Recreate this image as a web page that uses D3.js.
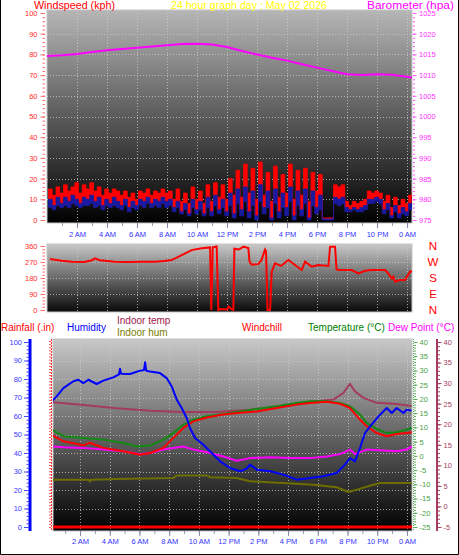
<!DOCTYPE html>
<html><head><meta charset="utf-8">
<script src="https://cdn.jsdelivr.net/npm/d3@7"></script>
<style>
html,body{margin:0;padding:0;background:#fff;}
svg{display:block;font-family:Arial,"Liberation Sans",sans-serif;}
</style></head><body>
<svg id="c" width="459" height="555"></svg>
<script>
// ---------- data ----------
const timeTicks  = [2,4,6,8,10,12,14,16,18,20,22,24];
const timeLabels = ["2 AM","4 AM","6 AM","8 AM","10 AM","12 PM","2 PM","4 PM","6 PM","8 PM","10 PM","0 AM"];

const windStart = 0.1, windStep = 0.25;
// red gust (top of red band)
const windGust = [15,12,16,13,17,14,16,18,13,17, 15,18,14,16,12,15,13,15,14,12,
  14,11,13,10,14,13,15,12,14,13, 15,13,14,10,15,9,13,8,16,10, 14,8,17,9,18,11,17,10,
  20,12,24,11,27,13,25,10,28,12, 23,9,26,11,22,13,27,10,24,12, 25,9,23,14,22,
  1,1,1, 17,16,17, 9,7,9,8,9,10, 14,13,14,13, 9,12,6,11,7,10,8,12,15];
// blue average speed (top of blue band)
const windSpeed = [10,7,11,8,11,9,12,10,8,11, 10,12,9,11,7,10,8,11,9,7,
  10,6,9,7,10,9,11,8,10,9, 11,9,10,6,9,4,8,3,10,5, 9,3,11,4,12,5,10,4,
  13,3,15,5,16,4,14,2,17,6, 14,1,15,4,13,6,16,2,14,5, 15,1,14,6,12,
  0.5,0.5,0.5, 11,10,11, 6,5,6,5,6,7, 10,10,11,10, 5,8,2,7,3,6,4,8,11];
// lowest speed (bottom of blue band)
const windLull = [6,5,7,6,7,6,8,7,6,7, 7,8,6,7,5,7,6,7,6,5,
  7,4,6,5,7,6,8,6,7,6, 8,6,7,4,6,3,5,2,6,3, 5,2,6,2,7,3,6,2,
  7,1,8,2,9,1,7,0,9,3, 6,0,8,1,6,2,9,0,7,2, 8,0,7,3,5,
  0,0,0, 8,7,8, 4,4,5,4,4,5, 8,8,9,8, 3,5,1,4,1,3,2,5,8];

const baroHours  = [0,1,2,3,4,5,6,7,8,9,10,11,12,13,14,15,16,17,18,19,20,21,22,23,24,24.33];
const baroValues = [1014.6,1014.8,1015.1,1015.6,1016.0,1016.3,1016.6,1016.9,1017.2,1017.5,1017.6,1017.4,1016.8,
  1015.8,1015.0,1014.2,1013.5,1012.6,1011.8,1011.0,1010.2,1010.0,1010.2,1010.1,1009.6,1009.4];

const dirHours = [0.2,0.98,1.64,2.5,3.0,3.2,3.5,3.87,4.5,5.42, 6.3,7.2,7.8,8.31,8.98,9.64,10.31,10.87,10.95,11.05,
  11.31,11.42,11.64,12.0,12.1,12.3,12.42,12.49,12.8,13.1, 13.42,13.5,13.64,14.09,14.3,14.53,14.6,14.7,14.87,14.98,
  15.2,15.6,16.09,16.53,16.98,17.2,17.64,18.09,18.76,18.87, 19.2,19.3,19.42,20.31,20.76,21.2,21.6,22.53,22.75,22.98,
  23.09,23.2,23.53,23.87,24.2,24.33];
const dirValues = [287,277,272,270,280,290,280,277,272,270, 272,272,276,281,309,337,347,352,0,352,
  357,0,5,3,19,5,0,345,340,356, 348,272,255,258,281,340,330,0,0,216,
  262,248,281,253,225,272,244,253,248,356, 356,229,225,225,206,221,225,225,206,178,
  188,159,169,169,216,216];
const dirLetters = ["N","W","S","E","N"];

const humHours = [0.09,0.43,0.88,1.55,1.89,2.22,2.56,3.12,3.57,4.24,4.62,4.69,4.76,5.36,6.04,6.3,6.38,6.45,6.71,7.38,
  7.83,8.17,8.51,8.84,9.18,9.4,9.74,10.3,10.75,11.42,12.1,12.77,13.2,13.44,13.89,14.79,15.68,16.58,17.48,18.37,
  19.27,19.83,20.17,20.5,20.84,21.18,21.52,22.19,22.64,22.98,23.31,23.76,23.98,24.31];
const humValues = [67.9,70.6,75.1,78.8,79.6,77.8,79.6,77.3,79.1,80.9,82.5,85.5,82.8,82.7,84.5,84.8,89,84.5,84.1,83.2,
  80.5,76.0,68.8,64.3,58.9,53.5,48.1,44.5,40.9,35.5,31.9,30.1,31.5,33.7,31.0,30.1,28.3,25.6,26.5,27.4,
  29.2,33.7,37.3,35.5,42.7,50.8,54.4,60.7,64.3,61.6,64.3,61.6,63.4,62.9];

const tempHours = [0.09,0.88,2.22,3.57,4.91,5.81,6.71,7.61,8.28,8.95,9.62,10.52,11.64,12.77,13.89,15.24,16.58,17.48,
  18.6,19.5,20.17,20.84,21.3,21.96,22.64,23.31,23.98,24.32];
const tempValues = [9.2,6.9,6.3,5.7,4.5,3.3,3.6,5.7,8.0,10.9,12.7,13.9,14.7,15.6,16.5,17.4,18.6,19.2,
  19.2,18.6,17.4,14.5,11.5,9.5,8.0,8.3,9.2,9.8];

const chillHours = [0.09,0.88,2.22,2.67,3.0,3.57,4.91,6.04,6.71,7.61,8.28,8.95,9.62,10.52,11.64,12.77,13.89,15.24,
  16.58,17.48,18.6,19.5,20.17,20.84,21.3,21.96,22.64,23.31,23.98,24.32];
const chillValues = [7.4,5.1,3.7,4.6,3.9,2.8,1.6,0.4,1.0,2.8,6.3,9.8,12.1,13.5,14.5,15.1,15.6,16.8,
  18.0,18.6,19.0,18.3,16.8,12.7,10.4,8.0,6.9,7.7,8.0,8.3];

const dewHours = [0.09,0.88,2.22,3.57,4.91,6.04,6.71,7.61,8.95,9.62,10.52,11.64,12.54,13.44,14.79,16.13,17.48,18.6,
  19.5,20.17,20.5,21.3,22.41,23.31,23.98,24.32];
const dewValues = [3.3,3.0,2.8,2.2,1.6,0.6,1.0,2.2,3.3,2.2,1.3,-0.2,-1.7,-0.8,-0.5,-0.8,-0.8,-0.2,
  0.6,2.2,0.6,2.2,1.9,1.6,2.2,3.3];

const inTempHours = [0.09,2.22,4.47,6.71,8.95,11.2,13.44,15.68,17.48,19.05,19.72,20.06,20.17,20.5,21.07,21.96,23.31,24.32];
const inTempValues = [25.4,24.7,23.9,23.3,23.0,23.0,23.5,24.5,25.4,26.0,27.6,29.3,29.8,28.0,26.4,25.2,24.9,24.4];

const inHumHours = [0.09,2.6,2.67,2.75,4.47,8.28,8.5,10.52,10.75,12.54,13.44,15.68,17.7,19.27,20.06,20.62,21.51,22.19,24.32];
const inHumValues = [25.6,25.6,24.6,25.6,25.9,26.5,27.9,27.9,26.9,26.5,24.7,23.8,22.9,21.5,18.9,20.2,22.3,23.8,23.8];

const rainHours = [0.18,24.34];
const rainValues = [0,0];

// ---------- drawing ----------
const svg = d3.select('#c');
const defs = svg.append('defs');
function grad(id, c0, c1){
  const g = defs.append('linearGradient').attr('id',id).attr('x1',0).attr('y1',0).attr('x2',0).attr('y2',1);
  g.append('stop').attr('offset','0%').attr('stop-color',c0);
  g.append('stop').attr('offset','100%').attr('stop-color',c1);
}
grad('gTop','#b6b6b6','#000000');
grad('gMid','#c8c8c8','#0a0a0a');
grad('gBot','#c8c8c8','#000000');

svg.append('rect').attr('x',0).attr('y',0).attr('width',459).attr('height',555).attr('fill','#fff');

const fmtTime = (d,i)=>timeLabels[i];

function panel(x0,y0,w,h,fill,clipId){
  svg.append('rect').attr('x',x0).attr('y',y0).attr('width',w).attr('height',h)
    .attr('fill',`url(#${fill})`).attr('stroke','#c4c4c4').attr('stroke-width',1);
  defs.append('clipPath').attr('id',clipId).append('rect').attr('x',x0).attr('y',y0).attr('width',w).attr('height',h);
}
function grid(xs, ys, x0, x1, y0, y1, xVals, yVals){
  const g = svg.append('g').attr('stroke','#cfcfcf').attr('stroke-width',1).attr('stroke-dasharray','1,2').attr('opacity',0.75);
  xVals.forEach(v=>{ const x=Math.round(xs(v))+0.5; g.append('line').attr('x1',x).attr('x2',x).attr('y1',y0).attr('y2',y1); });
  yVals.forEach(v=>{ const y=Math.round(ys(v))+0.5; g.append('line').attr('x1',x0).attr('x2',x1).attr('y1',y).attr('y2',y); });
}
function yAxis(scale, o){
  const mk = o.orient==='left'?d3.axisLeft:d3.axisRight;
  const gm = svg.append('g').attr('transform',`translate(${o.x},0)`)
    .call(mk(scale).tickValues(o.minor).tickSize(o.minorSize).tickFormat(''));
  gm.select('.domain').remove();
  gm.selectAll('line').attr('stroke',o.tickColor);
  const g = svg.append('g').attr('transform',`translate(${o.x},0)`)
    .call(mk(scale).tickValues(o.major).tickSize(o.majorSize).tickPadding(o.pad).tickFormat(o.fmt||(d=>d)));
  g.select('.domain').remove();
  g.selectAll('line').attr('stroke',o.tickColor);
  g.selectAll('text').attr('fill',o.labelColor).attr('font-size',o.fontSize||7.5).attr('font-family','Arial, "Liberation Sans", sans-serif');
  return g;
}
function xAxis(scale, y, labelY){
  const gm = svg.append('g').attr('transform',`translate(0,${y})`)
    .call(d3.axisBottom(scale).tickValues(d3.range(1,25,1)).tickSize(3).tickFormat(''));
  gm.select('.domain').remove(); gm.selectAll('line').attr('stroke','#9a9ab4');
  const g = svg.append('g').attr('transform',`translate(0,${y})`)
    .call(d3.axisBottom(scale).tickValues(timeTicks).tickSize(5).tickPadding(labelY-y-11).tickFormat(fmtTime));
  g.select('.domain').remove(); g.selectAll('line').attr('stroke','#8888aa');
  g.selectAll('text').attr('fill','#3434ff').attr('font-size',7.5);
}

// ===== TOP PANEL =====
const xT = d3.scaleLinear().domain([0,24.33]).range([47,412]);
const yW = d3.scaleLinear().domain([0,100]).range([220,13]);
const yP = d3.scaleLinear().domain([975,1025]).range([220,13]);
panel(47,10,365,213,'gTop','clipTop');
grid(xT,yW,47,412,10,223,timeTicks,d3.range(10,100,10));

const windHours = windGust.map((_,i)=>windStart+i*windStep);
const gTop = svg.append('g').attr('clip-path','url(#clipTop)');
const areaRed = d3.area().x((d,i)=>xT(windHours[i])).y0((d,i)=>yW(windSpeed[i])).y1(d=>yW(d)).curve(d3.curveStepAfter);
const areaBlue = d3.area().x((d,i)=>xT(windHours[i])).y0((d,i)=>yW(windLull[i])).y1(d=>yW(d)).curve(d3.curveStepAfter);
gTop.append('path').datum(windGust).attr('d',areaRed).attr('fill','#ff0000').attr('stroke','#ff0000').attr('stroke-width',0.8);
gTop.append('path').datum(windSpeed).attr('d',areaBlue).attr('fill','#1a1aa0').attr('stroke','#1a1aa0').attr('stroke-width',0.8);
const lineB = d3.line().x((d,i)=>xT(baroHours[i])).y(d=>yP(d));
gTop.append('path').datum(baroValues).attr('d',lineB).attr('fill','none').attr('stroke','#ff00ff').attr('stroke-width',2);

yAxis(yW,{orient:'left',x:45,major:d3.range(0,101,10),minor:d3.range(0,101,2),majorSize:4.5,minorSize:2.5,pad:3,tickColor:'#ff6a6a',labelColor:'#ff2a2a'});
yAxis(yP,{orient:'right',x:413,major:d3.range(975,1026,5),minor:d3.range(975,1026,1),majorSize:3.5,minorSize:2,pad:2.5,tickColor:'#ff55ff',labelColor:'#ff30ff'});
xAxis(xT,223,238);

const titles = [
  {t:'Windspeed (kph)',x:34,len:81,c:'#ff0000'},
  {t:'24 hour graph day : May 02 2026',x:171,len:156,c:'#ffff00'},
  {t:'Barometer (hpa)',x:367,len:87,c:'#ff00ff'}
];
svg.append('g').selectAll('text').data(titles).join('text')
  .attr('x',d=>d.x).attr('y',8.5).attr('font-size',10).attr('fill',d=>d.c)
  .attr('textLength',d=>d.len).attr('lengthAdjust','spacingAndGlyphs').text(d=>d.t);

// ===== MIDDLE PANEL =====
const yD = d3.scaleLinear().domain([0,360]).range([310,246]);
panel(47,244,365,68,'gMid','clipMid');
grid(xT,yD,47,412,244,312,timeTicks,[90,180,270]);
const lineD = d3.line().x((d,i)=>xT(dirHours[i])).y(d=>yD(d));
svg.append('g').attr('clip-path','url(#clipMid)').append('path').datum(dirValues).attr('d',lineD)
  .attr('fill','none').attr('stroke','#ff0000').attr('stroke-width',2);
yAxis(yD,{orient:'left',x:45,major:[0,90,180,270,360],minor:d3.range(0,361,18),majorSize:4.5,minorSize:2.5,pad:3,tickColor:'#ff6a6a',labelColor:'#ff2a2a'});
svg.append('g').selectAll('text').data(dirLetters).join('text')
  .attr('x',433).attr('y',(d,i)=>yD(360-i*90)+4).attr('text-anchor','middle')
  .attr('font-size',11.5).attr('fill','#ff0000').text(d=>d);

// ===== BOTTOM PANEL =====
const xB = d3.scaleLinear().domain([0.18,24.34]).range([53,412]);
const yH = d3.scaleLinear().domain([0,100]).range([527,342]);
const yR = d3.scaleLinear().domain([0,1.2]).range([527,341]);
const yT = d3.scaleLinear().domain([-25,40]).range([527,342]);
const yI = d3.scaleLinear().domain([-5,40]).range([527,342]);
panel(53,339,359,192,'gBot','clipBot');
grid(xB,yH,53,412,339,531,timeTicks,d3.range(10,100,10));

const gB = svg.append('g').attr('clip-path','url(#clipBot)');
function series(hours, vals, ys, color, w){
  const l = d3.line().x((d,i)=>xB(hours[i])).y(d=>ys(d));
  gB.append('path').datum(vals).attr('d',l).attr('fill','none').attr('stroke',color).attr('stroke-width',w).attr('stroke-linejoin','round');
}
series(inHumHours,inHumValues,yH,'#6e6e00',2);
series(inTempHours,inTempValues,yI,'#a33c5c',2);
series(dewHours,dewValues,yT,'#ff00ff',2);
series(tempHours,tempValues,yT,'#118a11',2);
series(chillHours,chillValues,yT,'#ff0000',2);
series(humHours,humValues,yH,'#0000ff',2);
series(rainHours,rainValues,yR,'#ff0000',3);

// humidity axis
svg.append('line').attr('x1',30).attr('x2',30).attr('y1',339).attr('y2',531).attr('stroke','#0000ff').attr('stroke-width',3);
yAxis(yH,{orient:'left',x:29,major:d3.range(0,101,10),minor:d3.range(0,101,2),majorSize:5,minorSize:2.5,pad:2,tickColor:'#4a4aff',labelColor:'#3a3aff'});
// rain axis
defs.append('clipPath').attr('id','clipRain').append('rect').attr('x',0).attr('y',339).attr('width',53).attr('height',200);
const gr = yAxis(yR,{orient:'left',x:51,major:d3.range(0,13,1).map(d=>d/10),minor:d3.range(0,61,1).map(d=>d/50),majorSize:4.5,minorSize:2,pad:2,tickColor:'#ff5050',labelColor:'#ff2020',fmt:d=>d3.format('~g')(+d.toFixed(2))});
gr.attr('clip-path','url(#clipRain)');
svg.append('line').attr('x1',51.5).attr('x2',51.5).attr('y1',339).attr('y2',531).attr('stroke','#ff3030').attr('stroke-width',1).attr('stroke-dasharray','2,1');
// temperature axis
svg.append('line').attr('x1',413.5).attr('x2',413.5).attr('y1',339).attr('y2',531).attr('stroke','#60b060').attr('stroke-width',1).attr('stroke-dasharray','1,1');
yAxis(yT,{orient:'right',x:414,major:d3.range(-25,41,5),minor:d3.range(-25,41,1),majorSize:3.5,minorSize:2,pad:2,tickColor:'#5aaa5a',labelColor:'#46a046'});
// indoor temp axis
svg.append('line').attr('x1',437).attr('x2',437).attr('y1',339).attr('y2',531).attr('stroke','#a33c5c').attr('stroke-width',2);
yAxis(yI,{orient:'right',x:438,major:d3.range(-5,41,5),minor:d3.range(-5,41,1),majorSize:3.5,minorSize:2,pad:2,tickColor:'#a33c5c',labelColor:'#a33c5c'});
xAxis(xB,531,545);

// legend texts
const leg = [
  {t:'Rainfall (.in)',x:1,y:331,c:'#ff0000'},
  {t:'Humidity',x:67,y:331,c:'#0000ff'},
  {t:'Indoor temp',x:117,y:324,c:'#a0204a'},
  {t:'Indoor hum',x:117,y:336,c:'#7a7a00'},
  {t:'Windchill',x:242,y:331,c:'#ff0000'},
  {t:'Temperature (°C)',x:308,y:331,c:'#008000'},
  {t:'Dew Point (°C)',x:388,y:331,c:'#ff00ff'}
];
svg.append('g').selectAll('text').data(leg).join('text')
  .attr('x',d=>d.x).attr('y',d=>d.y).attr('font-size',10).attr('fill',d=>d.c).text(d=>d.t);

// outer frame
svg.append('path').attr('d','M0.5,0 V554.5 H458.5 V0').attr('fill','none').attr('stroke','#000').attr('stroke-width',1);
</script>
</body></html>
